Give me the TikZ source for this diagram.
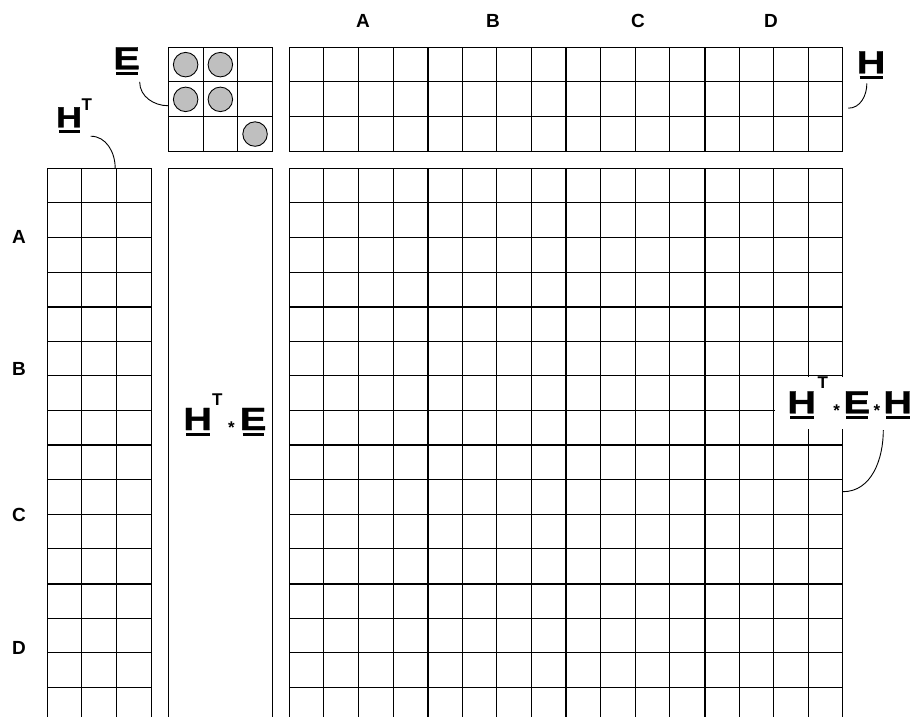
\documentclass[tikz,border=0pt]{standalone}
\usepackage{fontspec}
\setmainfont{Liberation Sans}
\newfontfamily\lblfont{Liberation Sans}[FakeStretch=1.25, FakeBold=1.2]
\usetikzlibrary{calc}

% underlined bold letter, superscript T and small star
\newcommand{\ulbf}[1]{\setbox0\hbox{#1}\rlap{\kern2.9pt\vrule height -2.5pt depth 6pt width \dimexpr\wd0-5pt\relax}\box0}
\newcommand{\supT}[1]{\raisebox{#1}{\normalfont\bfseries\fontsize{17}{17}\selectfont T}}
\newcommand{\mulst}{\raisebox{-3pt}{\normalfont\bfseries\fontsize{17}{17}\selectfont *}}

\begin{document}
\begin{tikzpicture}[
    x=1pt, y=-1pt,
    mat/.style={draw, line width=1pt, inner sep=0pt, outer sep=0pt, anchor=north west},
    gline/.style={line width=1pt},
    bline/.style={line width=2pt},
    ball/.style={circle, draw, line width=0.9pt, fill=black!25, minimum size=24.5pt, inner sep=0pt},
    hdr/.style={font=\fontsize{19}{19}\selectfont\bfseries},
    lbl/.style={font=\lblfont\fontsize{32}{32}\selectfont\bfseries, inner sep=0pt, anchor=base west},
    lead/.style={line width=0.9pt}
]
    \useasboundingbox (0,0) rectangle (911,717);
    \clip (0,0) rectangle (911,717);

    % the five blocks
    \node (E) [mat, minimum width=104.1pt, minimum height=104.1pt] at (168.3,47.3) {};
    \node (H) [mat, minimum width=553.6pt, minimum height=103.8pt] at (289.3,47.3) {};
    \node (HT) [mat, minimum width=103.8pt, minimum height=553.6pt] at (47.3,168.3) {};
    \node (HTE) [mat, minimum width=104.1pt, minimum height=553.6pt] at (168.3,168.3) {};
    \node (HTEH) [mat, minimum width=553.6pt, minimum height=553.6pt] at (289.3,168.3) {};

    % cells
    \foreach \i in {1,2} {
        \draw[gline] ($(E.north west)+(\i*34.7,0)$) -- ++(0,104.1);
        \draw[gline] ($(E.north west)+(0,\i*34.7)$) -- ++(104.1,0);
        \draw[gline] ($(H.north west)+(0,\i*34.6)$) -- ++(553.6,0);
        \draw[gline] ($(HT.north west)+(\i*34.6,0)$) -- ++(0,553.6);
    }
    \foreach \i in {1,...,15} {
        \draw[gline] ($(H.north west)+(\i*34.6,0)$) -- ++(0,103.8);
        \draw[gline] ($(HT.north west)+(0,\i*34.6)$) -- ++(103.8,0);
        \draw[gline] ($(HTEH.north west)+(\i*34.6,0)$) -- ++(0,553.6);
        \draw[gline] ($(HTEH.north west)+(0,\i*34.6)$) -- ++(553.6,0);
    }
    \foreach \i in {4,8,12} {
        \draw[bline] ($(H.north west)+(\i*34.6,0)$) -- ++(0,103.8);
        \draw[bline] ($(HT.north west)+(0,\i*34.6)$) -- ++(103.8,0);
        \draw[bline] ($(HTEH.north west)+(\i*34.6,0)$) -- ++(0,553.6);
        \draw[bline] ($(HTEH.north west)+(0,\i*34.6)$) -- ++(553.6,0);
    }

    % entries of E
    \foreach \c/\r in {1/1,2/1,1/2,2/2,3/3}
        \node (e\c\r) [ball] at ($(E.north west)+(\c*34.7-17.35,\r*34.7-17.35)$) {};

    % block names
    \node (ca) [hdr] at (363,21) {A};
    \node (cb) [hdr] at (493,21) {B};
    \node (cc) [hdr] at (638,21) {C};
    \node (cd) [hdr] at (771,21) {D};
    \node (ra) [hdr] at (19,237) {A};
    \node (rb) [hdr] at (19,369) {B};
    \node (rc) [hdr] at (19,515) {C};
    \node (rd) [hdr] at (19,648) {D};

    % labels
    \node (elbl) [lbl] at (113.1,69.3) {\ulbf{E}};
    \node (hlbl) [lbl] at (856.4,73.3) {\ulbf{H}};
    \node (htlbl) [lbl, font=\lblfont\fontsize{29}{29}\selectfont\bfseries] at (55.7,127.3) {\ulbf{H}\kern-0.5pt\supT{17pt}};
    \node (htelbl) [lbl] at (183.1,430) {\ulbf{H}\kern0pt\supT{25pt}\kern5.5pt\mulst\kern5pt\ulbf{E}};
    \node (htehlbl) [lbl, fill=white, inner xsep=12pt, text height=36pt, text depth=16pt] at (775.1,413.3)
        {\ulbf{H}\kern1.5pt\supT{25pt}\kern5.3pt\mulst\kern3.5pt\ulbf{E}\kern3.5pt\mulst\kern3pt\ulbf{H}};

    \draw[lead] ([shift={(-0.5,6.4)}]elbl.south east) to[out=-90, in=180] ([shift={(0,6.4)}]E.west);
    \draw[lead] ([shift={(-1.5,2.7)}]htlbl.south east) to[out=0, in=90] ([shift={(16,0)}]HT.north);
    \draw[lead] ([shift={(-4.2,4)}]hlbl.south) to[out=-90, in=0] ([shift={(5.4,9)}]H.east);
    \draw[lead] ([shift={(108.2,0.7)}]htehlbl.south west) to[out=-90, in=0] ([shift={(0,46.6)}]HTEH.east);
\end{tikzpicture}
\end{document}
